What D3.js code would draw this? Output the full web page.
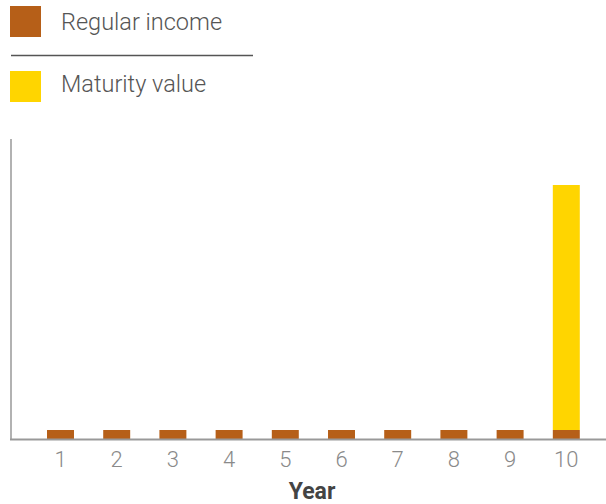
<!DOCTYPE html>
<html><head><meta charset="utf-8">
<script src="https://cdn.jsdelivr.net/npm/d3@7"></script>
<style>body{margin:0;background:#fff}svg{display:block}</style>
</head><body>
<svg id="c" width="606" height="504"></svg>
<script>
const years = ["1","2","3","4","5","6","7","8","9","10"];
const regularIncome = [1,1,1,1,1,1,1,1,1,1];
const maturityValue = [0,0,0,0,0,0,0,0,0,24.5];
const seriesNames = ["Regular income","Maturity value"];
const colors = ["#B65F18","#FFD500"];

const svg = d3.select("#c");
const font = "Roboto, 'Noto Sans', sans-serif";

const x = d3.scaleBand().domain(years).range([32.4,594.4]).paddingInner(0.52).paddingOuter(0.26);
const y = d3.scaleLinear().domain([0,30]).range([440,140]);

const rows = years.map((yr,i)=>({year:yr, income:regularIncome[i], maturity:maturityValue[i]}));
const stack = d3.stack().keys(["income","maturity"])(rows);

svg.selectAll("g.layer").data(stack).join("g").attr("class","layer")
  .attr("fill",(d,i)=>colors[i])
  .selectAll("rect").data(d=>d.filter(p=>p[1]>p[0])).join("rect")
  .attr("x",d=>x(d.data.year)).attr("width",x.bandwidth())
  .attr("y",d=>y(d[1])).attr("height",d=>y(d[0])-y(d[1]));

// axes
svg.append("line").attr("x1",11).attr("x2",11).attr("y1",139).attr("y2",440)
  .attr("stroke","#999").attr("stroke-width",1.5);
svg.append("line").attr("x1",10).attr("x2",606).attr("y1",439.5).attr("y2",439.5)
  .attr("stroke","#999").attr("stroke-width",2);

svg.selectAll("text.tick").data(years).join("text").attr("class","tick")
  .attr("x",d=>x(d)+x.bandwidth()/2).attr("y",467)
  .attr("text-anchor","middle").attr("font-family",font).attr("font-weight",300)
  .attr("font-size",22).attr("fill","#8a8a8a").text(d=>d);

svg.append("text").attr("x",312).attr("y",499).attr("text-anchor","middle")
  .attr("font-family",font).attr("font-weight",700).attr("font-size",23)
  .attr("fill","#444").text("Year");

// legend
const lg = svg.append("g");
const ly = [6,71];
const lb = [30,92];
seriesNames.forEach((n,i)=>{
  lg.append("rect").attr("x",10).attr("y",ly[i]).attr("width",31).attr("height",31).attr("fill",colors[i]);
  lg.append("text").attr("x",61).attr("y",lb[i]).attr("font-family",font).attr("font-weight",300)
    .attr("font-size",23.5).attr("fill","#555").text(n);
});
lg.append("line").attr("x1",11).attr("x2",253).attr("y1",55.5).attr("y2",55.5).attr("stroke","#555").attr("stroke-width",1.3);
</script>
</body></html>
